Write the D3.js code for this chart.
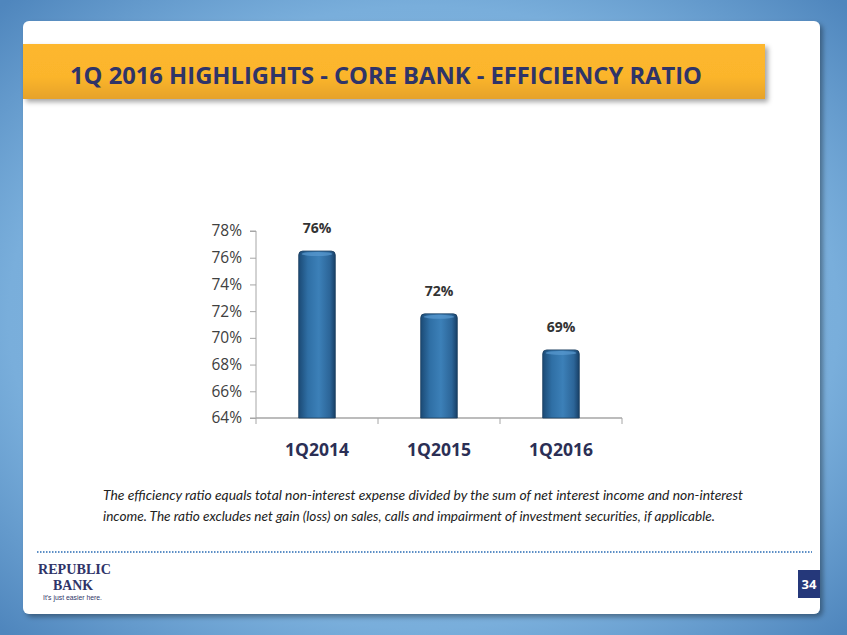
<!DOCTYPE html>
<html>
<head>
<meta charset="utf-8">
<script src="https://cdn.jsdelivr.net/npm/d3@7"></script>
<style>
  body { margin: 0; background: #fff; }
  svg { display: block; }
</style>
</head>
<body>
<div class="chart"></div>
<script>
// Data
var categories = ["1Q2014", "1Q2015", "1Q2016"];
var ratios = [76.5, 71.8, 69.1];
var valueLabels = ["76%", "72%", "69%"];
var yTicks = [64, 66, 68, 70, 72, 74, 76, 78];

var svgWidth = 847;
var svgHeight = 635;

var svg = d3.select(".chart")
  .append("svg")
  .attr("width", svgWidth)
  .attr("height", svgHeight);

var defs = svg.append("defs");

// background gradient
var bg = defs.append("radialGradient").attr("id", "bg")
  .attr("cx", "50%").attr("cy", "50%").attr("r", "70%");
bg.append("stop").attr("offset", "0%").attr("stop-color", "#8fc0e6");
bg.append("stop").attr("offset", "70%").attr("stop-color", "#79aedb");
bg.append("stop").attr("offset", "100%").attr("stop-color", "#4f86bd");

var yel = defs.append("linearGradient").attr("id", "yel")
  .attr("x1", 0).attr("y1", 0).attr("x2", 0).attr("y2", 1);
yel.append("stop").attr("offset", "0%").attr("stop-color", "#fdb72e");
yel.append("stop").attr("offset", "60%").attr("stop-color", "#fbb52c");
yel.append("stop").attr("offset", "100%").attr("stop-color", "#e6a22a");

var barGrad = defs.append("linearGradient").attr("id", "bar")
  .attr("x1", 0).attr("y1", 0).attr("x2", 1).attr("y2", 0);
barGrad.append("stop").attr("offset", "0%").attr("stop-color", "#1b4a75");
barGrad.append("stop").attr("offset", "25%").attr("stop-color", "#2f6fa5");
barGrad.append("stop").attr("offset", "55%").attr("stop-color", "#3c80b8");
barGrad.append("stop").attr("offset", "85%").attr("stop-color", "#2c6598");
barGrad.append("stop").attr("offset", "100%").attr("stop-color", "#173f66");

var shadow = defs.append("filter").attr("id", "shadow")
  .attr("x", "-5%").attr("y", "-20%").attr("width", "115%").attr("height", "150%");
shadow.append("feDropShadow").attr("dx", 3).attr("dy", 3).attr("stdDeviation", 2.5)
  .attr("flood-color", "#000").attr("flood-opacity", 0.35);

svg.append("rect").attr("width", svgWidth).attr("height", svgHeight).attr("fill", "url(#bg)");

// white card
svg.append("rect")
  .attr("x", 23).attr("y", 21).attr("width", 797).attr("height", 593)
  .attr("rx", 6).attr("fill", "#fff")
  .attr("filter", "url(#shadow)");

// title bar
svg.append("rect")
  .attr("x", 23).attr("y", 44).attr("width", 742).attr("height", 55)
  .attr("fill", "url(#yel)")
  .attr("filter", "url(#shadow)");

svg.append("text")
  .attr("x", 70).attr("y", 84)
  .attr("font-family", "Open Sans, sans-serif")
  .attr("font-weight", "bold")
  .attr("font-size", 24)
  .attr("fill", "#2f3468")
  .attr("textLength", 632)
  .attr("lengthAdjust", "spacingAndGlyphs")
  .text("1Q 2016 HIGHLIGHTS - CORE BANK - EFFICIENCY RATIO");

// chart area
var margin = { top: 231, left: 256 };
var width = 366;
var height = 187;

var chartGroup = svg.append("g")
  .attr("transform", `translate(${margin.left}, ${margin.top})`);

var xBandScale = d3.scaleBand()
  .domain(categories)
  .range([0, width])
  .paddingInner(0.7)
  .paddingOuter(0.35);

var yLinearScale = d3.scaleLinear()
  .domain([64, 78])
  .range([height, 0]);

var leftAxis = d3.axisLeft(yLinearScale)
  .tickValues(yTicks)
  .tickSize(6)
  .tickPadding(8)
  .tickFormat(d => d + "%");

var yAxisG = chartGroup.append("g").call(leftAxis);
yAxisG.select(".domain").attr("stroke", "#a6a6a6").attr("d", `M-6,0H0V${height}H-6`);
yAxisG.selectAll(".tick line").attr("stroke", "#a6a6a6");
yAxisG.selectAll(".tick text")
  .attr("font-family", "Open Sans, sans-serif")
  .attr("font-size", 15.5)
  .attr("fill", "#404040");

// x axis line with ticks at category boundaries
var xg = chartGroup.append("g").attr("transform", `translate(0, ${height})`);
xg.append("line").attr("x1", 0).attr("x2", width).attr("stroke", "#a6a6a6").attr("stroke-width", 1.5);
var step = xBandScale.step();
var boundaries = [0].concat(categories.map((c, i) => xBandScale(c) + xBandScale.bandwidth() + step * xBandScale.paddingInner() / 2));
boundaries[boundaries.length - 1] = width;
xg.selectAll(".xt").data(boundaries).enter().append("line")
  .attr("x1", d => d).attr("x2", d => d).attr("y1", 0).attr("y2", 6)
  .attr("stroke", "#a6a6a6");

xg.selectAll(".xl").data(categories).enter().append("text")
  .attr("x", d => xBandScale(d) + xBandScale.bandwidth() / 2)
  .attr("y", 38)
  .attr("text-anchor", "middle")
  .attr("font-family", "Open Sans, sans-serif")
  .attr("font-weight", "bold")
  .attr("font-size", 17.5)
  .attr("fill", "#2b2f55")
  .text(d => d);

// bars (cylinder look)
var bw = xBandScale.bandwidth();
var bars = chartGroup.selectAll(".bar").data(ratios).enter().append("g");

bars.append("path")
  .attr("d", function(d, i) {
    var x = xBandScale(categories[i]);
    var y = yLinearScale(d);
    var r = 4;
    return `M${x},${height}V${y + r}Q${x},${y} ${x + r},${y}H${x + bw - r}Q${x + bw},${y} ${x + bw},${y + r}V${height}Z`;
  })
  .attr("fill", "url(#bar)")
  .attr("stroke", "#1d3f60")
  .attr("stroke-width", 0.8);

bars.append("ellipse")
  .attr("cx", (d, i) => xBandScale(categories[i]) + bw / 2)
  .attr("cy", d => yLinearScale(d) + 3)
  .attr("rx", bw / 2 - 3)
  .attr("ry", 2)
  .attr("fill", "#5a9ad0")
  .attr("opacity", 0.7);

bars.append("text")
  .attr("x", (d, i) => xBandScale(categories[i]) + bw / 2)
  .attr("y", d => yLinearScale(d) - 18)
  .attr("text-anchor", "middle")
  .attr("font-family", "Open Sans, sans-serif")
  .attr("font-weight", "bold")
  .attr("font-size", 14)
  .attr("fill", "#333")
  .text((d, i) => valueLabels[i]);

// footnote
var note = svg.append("text")
  .attr("font-family", "Lato, sans-serif")
  .attr("font-style", "italic")
  .attr("font-size", 12.5)
  .attr("fill", "#222");
note.append("tspan").attr("x", 103).attr("y", 500)
  .attr("textLength", 640).attr("lengthAdjust", "spacingAndGlyphs")
  .text("The efficiency ratio equals total non-interest expense divided by the sum of net interest income and non-interest");
note.append("tspan").attr("x", 103).attr("y", 521)
  .attr("textLength", 612).attr("lengthAdjust", "spacingAndGlyphs")
  .text("income. The ratio excludes net gain (loss) on sales, calls and impairment of investment securities, if applicable.");

// dotted separator
svg.append("line")
  .attr("x1", 37).attr("x2", 812).attr("y1", 552).attr("y2", 552)
  .attr("stroke", "#5d8fc6").attr("stroke-width", 2)
  .attr("stroke-dasharray", "1.5,1.5");

// logo
var logo = svg.append("g").attr("font-family", "Liberation Serif, serif").attr("fill", "#2f3468");
logo.append("text").attr("x", 38).attr("y", 574)
  .attr("font-weight", "bold").attr("font-size", 15)
  .attr("textLength", 73).attr("lengthAdjust", "spacingAndGlyphs")
  .text("REPUBLIC");
logo.append("text").attr("x", 53).attr("y", 590)
  .attr("font-weight", "bold").attr("font-size", 15)
  .attr("textLength", 40).attr("lengthAdjust", "spacingAndGlyphs")
  .text("BANK");
logo.append("text").attr("x", 43).attr("y", 600)
  .attr("font-family", "Liberation Sans, sans-serif")
  .attr("font-size", 6.5)
  .attr("textLength", 59).attr("lengthAdjust", "spacingAndGlyphs")
  .text("It's just easier here.");

// page number
svg.append("rect").attr("x", 798).attr("y", 570).attr("width", 22).attr("height", 28).attr("fill", "#25387a");
svg.append("text").attr("x", 809).attr("y", 589)
  .attr("text-anchor", "middle")
  .attr("font-family", "Open Sans, sans-serif").attr("font-weight", "bold")
  .attr("font-size", 13).attr("fill", "#fff")
  .text("34");
</script>
</body>
</html>
